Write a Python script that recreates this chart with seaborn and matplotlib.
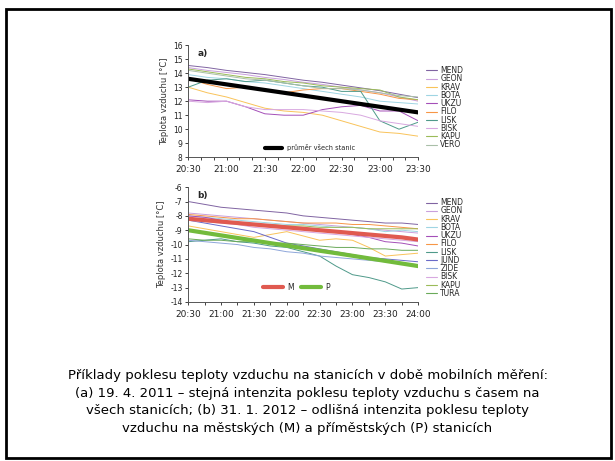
import matplotlib
matplotlib.use("Agg")
import matplotlib.pyplot as plt
import matplotlib.patches as patches
from matplotlib.lines import Line2D
import numpy as np
import pandas as pd
import seaborn as sns

# panel a) 19. 4. 2011
times_a = ["20:30", "20:45", "21:00", "21:15", "21:30", "21:45", "22:00",
           "22:15", "22:30", "22:45", "23:00", "23:15", "23:30"]
stations_a = ["MEND", "GEON", "KRAV", "BOTA", "UKZU", "FILO", "LISK", "BISK", "KAPU", "VERO"]
mend_a = [14.55, 14.4, 14.2, 14.05, 13.9, 13.7, 13.5, 13.35, 13.15, 12.95, 12.75, 12.5, 12.25]
geon_a = [14.4, 14.2, 14.05, 13.9, 13.7, 13.55, 13.35, 13.2, 13.0, 12.8, 12.6, 12.3, 12.0]
krav_a = [13.0, 12.6, 12.3, 11.9, 11.5, 11.3, 11.2, 11.0, 10.6, 10.2, 9.8, 9.7, 9.5]
bota_a = [13.9, 13.7, 13.6, 13.4, 13.3, 13.1, 12.9, 12.7, 12.5, 12.3, 12.0, 11.9, 11.8]
ukzu_a = [12.1, 12.0, 12.0, 11.6, 11.1, 11.0, 11.0, 11.4, 11.6, 11.7, 11.3, 11.3, 10.6]
filo_a = [13.6, 13.2, 12.9, 13.0, 12.8, 12.6, 12.8, 12.9, 12.9, 12.7, 12.5, 12.2, 12.1]
lisk_a = [13.0, 13.5, 13.6, 13.4, 13.5, 13.3, 13.1, 13.0, 12.7, 12.7, 10.6, 10.0, 10.5]
bisk_a = [12.0, 11.9, 12.0, 11.6, 11.4, 11.4, 11.4, 11.3, 11.2, 11.0, 10.6, 10.4, 10.2]
kapu_a = [14.3, 14.1, 13.9, 13.7, 13.6, 13.4, 13.3, 13.1, 13.0, 12.9, 12.8, 12.3, 12.1]
vero_a = [14.2, 14.0, 13.8, 13.6, 13.5, 13.3, 13.1, 12.9, 12.9, 12.8, 12.6, 12.4, 12.3]
mean_a = [13.6, 13.4, 13.2, 13.0, 12.8, 12.6, 12.4, 12.2, 12.0, 11.8, 11.6, 11.4, 11.2]

# panel b) 31. 1. 2012
times_b = ["20:30", "20:45", "21:00", "21:15", "21:30", "21:45", "22:00", "22:15",
           "22:30", "22:45", "23:00", "23:15", "23:30", "23:45", "24:00"]
stations_b = ["MEND", "GEON", "KRAV", "BOTA", "UKZU", "FILO", "LISK", "JUND",
              "ZIDE", "BISK", "KAPU", "TURA"]
mend_b = [-7.0, -7.2, -7.4, -7.5, -7.6, -7.7, -7.8, -8.0, -8.1, -8.2, -8.3, -8.4, -8.5, -8.5, -8.6]
geon_b = [-7.8, -7.9, -8.0, -8.1, -8.2, -8.3, -8.4, -8.5, -8.6, -8.7, -8.8, -8.9, -9.0, -9.1, -9.2]
krav_b = [-8.7, -8.9, -9.1, -9.3, -9.5, -9.3, -9.1, -9.4, -9.7, -9.6, -9.7, -10.2, -10.8, -10.7, -10.6]
bota_b = [-8.0, -8.1, -8.2, -8.3, -8.4, -8.5, -8.6, -8.6, -8.7, -8.8, -8.8, -8.9, -9.1, -9.0, -9.1]
ukzu_b = [-8.0, -8.1, -8.3, -8.5, -8.6, -8.7, -8.8, -8.9, -9.0, -9.1, -9.3, -9.5, -9.8, -9.9, -10.1]
filo_b = [-7.9, -8.0, -8.1, -8.2, -8.2, -8.3, -8.4, -8.5, -8.5, -8.5, -8.6, -8.6, -8.7, -8.8, -8.9]
lisk_b = [-9.8, -9.7, -9.6, -9.8, -9.9, -10.1, -10.2, -10.5, -10.8, -11.5, -12.1, -12.3, -12.6, -13.1, -13.0]
jund_b = [-8.3, -8.5, -8.7, -8.9, -9.1, -9.5, -9.9, -10.1, -10.3, -10.5, -10.7, -10.9, -11.0, -11.1, -11.2]
zide_b = [-9.7, -9.8, -9.9, -10.0, -10.2, -10.3, -10.5, -10.6, -10.8, -10.9, -11.0, -11.1, -11.2, -11.3, -11.4]
bisk_b = [-8.3, -8.4, -8.5, -8.6, -8.8, -8.9, -9.0, -9.1, -9.2, -9.3, -9.4, -9.5, -9.6, -9.7, -9.8]
kapu_b = [-8.2, -8.3, -8.4, -8.5, -8.6, -8.6, -8.7, -8.7, -8.8, -8.8, -8.8, -8.9, -8.9, -8.9, -8.9]
tura_b = [-9.6, -9.7, -9.7, -9.8, -9.8, -9.9, -9.9, -10.0, -10.1, -10.2, -10.2, -10.3, -10.3, -10.4, -10.4]
m_b = [-8.2, -8.3, -8.4, -8.5, -8.6, -8.7, -8.8, -8.9, -9.0, -9.1, -9.2, -9.3, -9.4, -9.5, -9.65]
p_b = [-9.0, -9.18, -9.36, -9.54, -9.72, -9.9, -10.07, -10.25, -10.43, -10.6, -10.78, -10.96, -11.14, -11.32, -11.5]

ticks_a = ["20:30", "21:00", "21:30", "22:00", "22:30", "23:00", "23:30"]
ticks_b = ["20:30", "21:00", "21:30", "22:00", "22:30", "23:00", "23:30", "24:00"]

colors = {"MEND": "#8064a2", "GEON": "#c9a0dc", "KRAV": "#f9c35a", "BOTA": "#9fd5e3",
          "UKZU": "#a44fb8", "FILO": "#f79646", "LISK": "#4f9a8a", "BISK": "#d8a8e0",
          "KAPU": "#9bbb59", "VERO": "#a9bfa8", "JUND": "#6a6ac8", "ZIDE": "#8ea6da",
          "TURA": "#6aaa5a"}


def hours(t):
    h, m = t.split(":")
    return int(h) + int(m) / 60


def long_df(times, names, series):
    rows = []
    for name, vals in zip(names, series):
        for t, v in zip(times, vals):
            rows.append((hours(t), v, name))
    return pd.DataFrame(rows, columns=["t", "val", "station"])


df_a = long_df(times_a, stations_a, [mend_a, geon_a, krav_a, bota_a, ukzu_a, filo_a,
                                     lisk_a, bisk_a, kapu_a, vero_a])
df_b = long_df(times_b, stations_b, [mend_b, geon_b, krav_b, bota_b, ukzu_b, filo_b,
                                     lisk_b, jund_b, zide_b, bisk_b, kapu_b, tura_b])

sns.set_style("white")
plt.rcParams['font.family'] = ['DejaVu Sans']
plt.rcParams['axes.unicode_minus'] = False

fig = plt.figure(figsize=(6.15, 4.61), dpi=100)
ax1 = fig.add_axes([0.306, 0.659, 0.374, 0.243])
ax2 = fig.add_axes([0.306, 0.345, 0.374, 0.249])

# panel a
sns.lineplot(data=df_a, x="t", y="val", hue="station", palette=colors, hue_order=stations_a,
             linewidth=0.7, legend=False, ax=ax1)
sns.lineplot(x=[hours(t) for t in times_a], y=mean_a, color="black", linewidth=3, ax=ax1)
ax1.set_ylim(8, 16)
ax1.set_xlim(hours("20:30"), hours("23:30"))
ax1.set_yticks(range(8, 17))
ax1.set_xticks([hours(t) for t in ticks_a])
ax1.set_xticklabels(ticks_a)
ax1.set_xticks(np.arange(hours("20:30"), hours("23:30") + 0.01, 1 / 6), minor=True)
ax1.text(0.04, 0.97, "a)", transform=ax1.transAxes, fontsize=6.5, fontweight="bold", va="top")

# panel b
sns.lineplot(data=df_b, x="t", y="val", hue="station", palette=colors, hue_order=stations_b,
             linewidth=0.7, legend=False, ax=ax2)
sns.lineplot(x=[hours(t) for t in times_b], y=m_b, color="#e05a50", linewidth=3, ax=ax2)
sns.lineplot(x=[hours(t) for t in times_b], y=p_b, color="#72bb3c", linewidth=3, ax=ax2)
ax2.set_ylim(-14, -6)
ax2.set_xlim(hours("20:30"), hours("24:00"))
ax2.set_yticks(range(-14, -5))
ax2.set_xticks([hours(t) for t in ticks_b])
ax2.set_xticklabels(ticks_b)
ax2.set_xticks(np.arange(hours("20:30"), hours("24:00") + 0.01, 0.25), minor=True)
ax2.text(0.04, 0.97, "b)", transform=ax2.transAxes, fontsize=6.5, fontweight="bold", va="top")

for ax, names, top in [(ax1, stations_a, 0.84), (ax2, stations_b, 0.93)]:
    sns.despine(ax=ax)
    for s in ["left", "bottom"]:
        ax.spines[s].set_color("#555555")
        ax.spines[s].set_linewidth(0.7)
    ax.set_xlabel("")
    ax.set_ylabel("Teplota vzduchu [°C]", fontsize=6, color="#333333", labelpad=3)
    ax.tick_params(axis="y", labelsize=5.5, length=2.5, width=0.6, direction="out",
                   left=True, pad=1.5, colors="#222222")
    ax.tick_params(axis="x", which="both", labelsize=6.5, length=2.5, width=0.6,
                   direction="out", bottom=True, pad=3, colors="#222222")
    handles = [Line2D([], [], color=colors[n], linewidth=0.8) for n in names]
    leg = ax.legend(handles, names, loc="upper left", bbox_to_anchor=(1.02, top),
                    frameon=False, fontsize=5.5, handlelength=1.5, handletextpad=0.4,
                    labelspacing=-0.1, borderaxespad=0)
    ax.add_artist(leg)

ax1.legend([Line2D([], [], color="black", linewidth=3)], ["průměr všech stanic"],
           loc="lower center", bbox_to_anchor=(0.53, 0.01), frameon=False, fontsize=4.8,
           handlelength=2.5, borderaxespad=0.3)
ax2.legend([Line2D([], [], color="#e05a50", linewidth=3), Line2D([], [], color="#72bb3c", linewidth=3)],
           ["M", "P"], loc="lower center", bbox_to_anchor=(0.47, 0.04), frameon=False,
           fontsize=5.5, ncol=2, handlelength=2.6, columnspacing=1.0, handletextpad=0.5,
           borderaxespad=0.3)

caption = ("Příklady poklesu teploty vzduchu na stanicích v době mobilních měření:\n"
           "(a) 19. 4. 2011 – stejná intenzita poklesu teploty vzduchu s časem na\n"
           "všech stanicích; (b) 31. 1. 2012 – odlišná intenzita poklesu teploty\n"
           "vzduchu na městských (M) a příměstských (P) stanicích")
fig.text(0.5, 0.2, caption, ha="center", va="top", fontsize=9.5, linespacing=1.48,
         color="black")

fig.add_artist(patches.Rectangle((0.01, 0.006), 0.983, 0.975, transform=fig.transFigure,
                                 fill=False, edgecolor="black", linewidth=2))

fig.savefig("out.png", dpi=100)
